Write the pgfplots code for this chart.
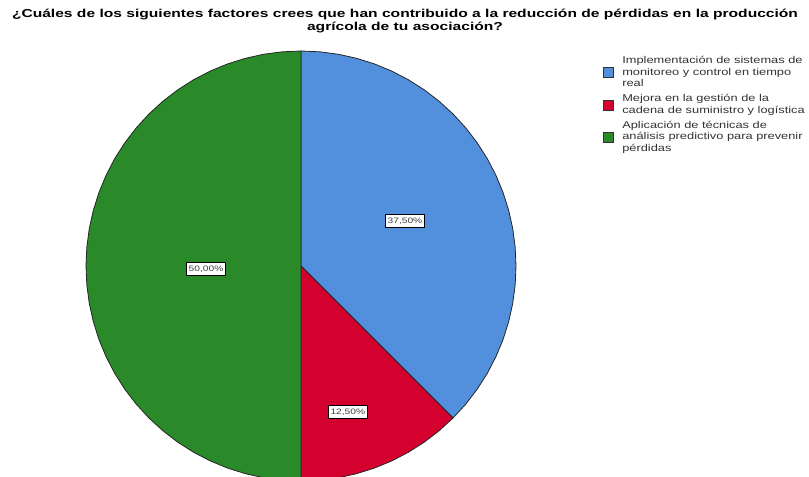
\documentclass[border=0pt]{standalone}
\usepackage{pgfplots}
\pgfplotsset{compat=1.18}
\usepgfplotslibrary{polar}
\usepackage{fontspec}
\setmainfont{Liberation Sans}
\newfontfamily\widefont[FakeStretch=1.30]{Liberation Sans}
\newfontfamily\widetitle[FakeStretch=1.36]{Liberation Sans}
\definecolor{pieblue}{RGB}{82,144,222}
\definecolor{piered}{RGB}{212,0,45}
\definecolor{piegreen}{RGB}{42,138,42}
\tikzset{pielabel/.style={draw=black, fill=white, line width=0.9pt, inner xsep=1.5pt, inner ysep=2.3pt,
    font=\widefont\fontsize{5.9}{6.5}\selectfont, text=black!75}}
\begin{document}
\begin{tikzpicture}[x=0.75pt,y=0.75pt]
\useasboundingbox (0,0) rectangle (809,477);
% title
\node[font=\widetitle\bfseries\fontsize{8.6}{9.9}\selectfont, align=center, inner sep=0pt] at (405,456)
 {¿Cuáles de los siguientes factores crees que han contribuido a la reducción de pérdidas en la producción\\agrícola de tu asociación?};
\begin{polaraxis}[
  at={(225.75pt,158.25pt)}, anchor=origin,
  hide axis, scale only axis, clip=false,
  width=322.5pt, height=322.5pt,
  xmin=0, xmax=360, ymin=0, ymax=1,
  every axis plot/.append style={draw=black!85, line width=0.6pt, line join=round},
]
% Implementación de sistemas de monitoreo: 37,50 %
\addplot[fill=pieblue] coordinates {(0,0) (90,1) (85,1) (80,1) (75,1) (70,1) (65,1) (60,1) (55,1) (50,1) (45,1) (40,1) (35,1) (30,1) (25,1) (20,1) (15,1) (10,1) (5,1) (0,1) (-5,1) (-10,1) (-15,1) (-20,1) (-25,1) (-30,1) (-35,1) (-40,1) (-45,1)} -- cycle;
% Mejora en la gestión: 12,50 %
\addplot[fill=piered] coordinates {(0,0) (-45,1) (-50,1) (-55,1) (-60,1) (-65,1) (-70,1) (-75,1) (-80,1) (-85,1) (-90,1)} -- cycle;
% Aplicación de técnicas de análisis predictivo: 50,00 %
\addplot[fill=piegreen] coordinates {(0,0) (270,1) (265,1) (260,1) (255,1) (250,1) (245,1) (240,1) (235,1) (230,1) (225,1) (220,1) (215,1) (210,1) (205,1) (200,1) (195,1) (190,1) (185,1) (180,1) (175,1) (170,1) (165,1) (160,1) (155,1) (150,1) (145,1) (140,1) (135,1) (130,1) (125,1) (120,1) (115,1) (110,1) (105,1) (100,1) (95,1) (90,1)} -- cycle;
\node[pielabel] at (axis cs:23.4,0.527) {37,50\%};
\node[pielabel] at (axis cs:-72.2,0.713) {12,50\%};
\node[pielabel] at (axis cs:181.8,0.442) {50,00\%};
\end{polaraxis}
% legend
\begin{scope}[every node/.style={font=\widefont\fontsize{7.4}{8.7}\selectfont, align=left, anchor=west, inner sep=0pt, text=black!80}]
\filldraw[fill=pieblue, draw=black!80, line width=0.6pt] (603,400) rectangle (613,410);
\node at (622,405.5) {Implementación de sistemas de\\monitoreo y control en tiempo\\real};
\filldraw[fill=piered, draw=black!80, line width=0.6pt] (603,367) rectangle (613,377);
\node at (622,372) {Mejora en la gestión de la\\cadena de suministro y logística};
\filldraw[fill=piegreen, draw=black!80, line width=0.6pt] (603,335) rectangle (613,345);
\node at (622,340) {Aplicación de técnicas de\\análisis predictivo para prevenir\\pérdidas};
\end{scope}
\end{tikzpicture}
\end{document}
